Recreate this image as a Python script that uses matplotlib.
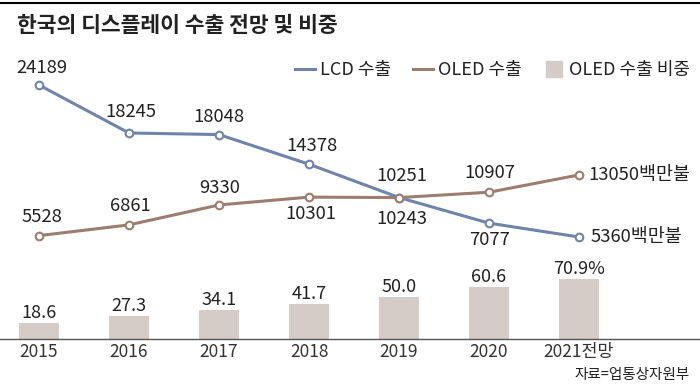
import numpy as np
import matplotlib.pyplot as plt
from matplotlib.lines import Line2D

plt.rcParams['font.family'] = ['Noto Sans CJK KR', 'DejaVu Sans']

# 데이터
years = ['2015', '2016', '2017', '2018', '2019', '2020', '2021전망']
lcd = [24189, 18245, 18048, 14378, 10251, 7077, 5360]
oled = [5528, 6861, 9330, 10301, 10243, 10907, 13050]
share = [18.6, 27.3, 34.1, 41.7, 50.0, 60.6, 70.9]

lcd_txt = ['24189', '18245', '18048', '14378', '10251', '7077', '5360백만불']
oled_txt = ['5528', '6861', '9330', '10301', '10243', '10907', '13050백만불']
share_txt = ['18.6', '27.3', '34.1', '41.7', '50.0', '60.6', '70.9%']

# 라벨 위치 (픽셀 오프셋)
lcd_off = [(3, 17), (2, 21), (0, 18), (3, 18), (3, 22), (1, -17), (12, 0)]
oled_off = [(3, 19), (1, 19), (1, 17), (2, -17), (3, -21), (1, 19), (9, 0)]

LCD_C = '#7084aa'
OLED_C = '#9c7d70'
BAR_C = '#d5cbc7'
TXT = '#222222'

fig = plt.figure(figsize=(7, 3.85), dpi=100)
ax = fig.add_axes([0, 46 / 385, 1, 339 / 385])
x = np.arange(len(years))

ax.bar(x, share, width=40 / 90, color=BAR_C, zorder=1)
ax.set_xlim(-39 / 90, 661 / 90)
ax.set_ylim(0, 339 / 0.85)
for s in ['top', 'left', 'right']:
    ax.spines[s].set_visible(False)
ax.spines['bottom'].set_color('#555555')
ax.spines['bottom'].set_linewidth(1)
ax.set_yticks([])
ax.set_xticks(x, years)
ax.tick_params(axis='x', length=0, pad=3, labelsize=12.5, labelcolor='#333333')
for xi, v, t in zip(x, share, share_txt):
    ax.annotate(t, (xi, v), xytext=(0, 10), textcoords='offset pixels',
                ha='center', va='center', fontsize=13, color=TXT)

ax2 = ax.twinx()
ax2.set_ylim(-7274, 34718)
ax2.axis('off')
ax2.plot(x, lcd, color=LCD_C, lw=2.2, marker='o', ms=5.5, mfc='white', mew=1.5)
ax2.plot(x, oled, color=OLED_C, lw=2.2, marker='o', ms=5.5, mfc='white', mew=1.5)

for xi, v, t, o in zip(x, lcd, lcd_txt, lcd_off):
    ha = 'left' if o[1] == 0 else 'center'
    ax2.annotate(t, (xi, v), xytext=o, textcoords='offset pixels',
                 ha=ha, va='center', fontsize=13.3, color=TXT)
for xi, v, t, o in zip(x, oled, oled_txt, oled_off):
    ha = 'left' if o[1] == 0 else 'center'
    ax2.annotate(t, (xi, v), xytext=o, textcoords='offset pixels',
                 ha=ha, va='center', fontsize=13.3, color=TXT)

handles = [Line2D([], [], color=LCD_C, lw=2.2),
           Line2D([], [], color=OLED_C, lw=2.2),
           Line2D([], [], color=BAR_C, marker='s', ms=12, ls='none')]
leg = ax2.legend(handles, ['LCD 수출', 'OLED 수출', 'OLED 수출 비중'],
                 loc='center right', bbox_to_anchor=(690 / 700, 1 - 70 / 385),
                 bbox_transform=fig.transFigure, ncol=3, frameon=False,
                 handlelength=1.1, handletextpad=0.3, columnspacing=1.2,
                 fontsize=13, borderpad=0, borderaxespad=0)
for t in leg.get_texts():
    t.set_color(TXT)

fig.text(17 / 700, 1 - 25 / 385, '한국의 디스플레이 수출 전망 및 비중',
         fontsize=15.5, weight='bold', va='center', color=TXT)
fig.add_artist(Line2D([0, 1], [1 - 3 / 385] * 2, color='black', lw=1.5,
                      transform=fig.transFigure))
fig.text(690 / 700, 1 - 375 / 385, '자료=업통상자원부', ha='right', va='center',
         fontsize=10.5, color=TXT)

fig.savefig('out.png', dpi=100)
